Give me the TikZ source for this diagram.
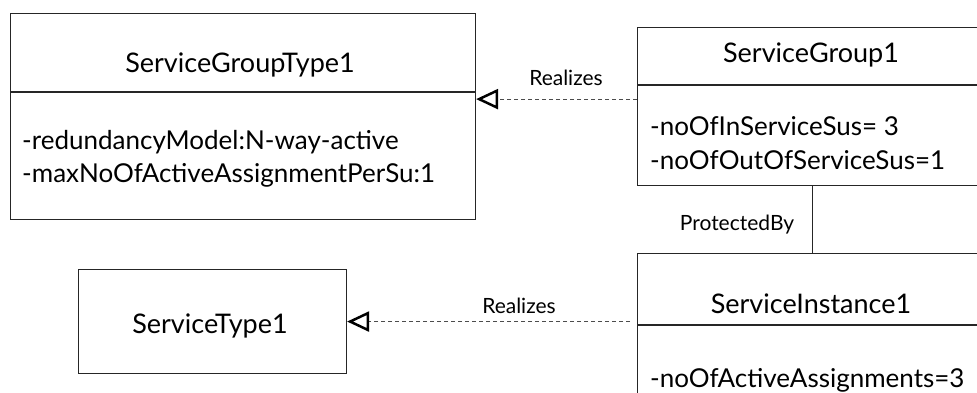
\documentclass[tikz,border=0pt]{standalone}
\usepackage{fontspec}
\setmainfont{Lato}
\usetikzlibrary{calc, arrows.meta, positioning}

\begin{document}
\begin{tikzpicture}[x=1pt, y=-1pt,
  box/.style={draw=black!85, line width=1.1pt, inner sep=0pt, anchor=north west},
  cname/.style={font=\fontsize{27}{32}\selectfont, anchor=base, inner sep=0pt},
  attr/.style={font=\fontsize{26}{32}\selectfont, anchor=base west, inner sep=0pt},
  rel/.style={font=\fontsize{21}{24}\selectfont, anchor=base, inner sep=0pt},
  realize/.style={draw=black!70, line width=1pt, dash pattern=on 4pt off 3pt,
    -{Triangle[open, length=22pt, width=20pt, line width=2.5pt, color=black]}}]
\useasboundingbox (0,0) rectangle (977,392);
\clip (0,0) rectangle (977,392);

% class boxes
\node[box, minimum width=465pt, minimum height=78pt] (sgtHead) at (10,13) {};
\node[box, minimum width=465pt, minimum height=127pt] (sgtBody) at (sgtHead.south west) {};
\node[box, minimum width=350pt, minimum height=57pt] (sgHead) at (637,27) {};
\node[box, minimum width=350pt, minimum height=100pt] (sgBody) at (sgHead.south west) {};
\node[box, minimum width=350pt, minimum height=71pt] (siHead) at (637,253) {};
\node[box, minimum width=350pt, minimum height=100pt] (siBody) at (siHead.south west) {};
\node[box, minimum width=268pt, minimum height=104pt] (st) at (78,269) {};

% names and attributes
\node[cname] (sgtName) at (240,72) {ServiceGroupType1};
\node[attr] (sgtA) at (22,149) {-redundancyModel:N-way-active};
\node[attr] (sgtB) at (22,182) {-maxNoOfActiveAssignmentPerSu:1};
\node[cname] (sgName) at (811,62) {ServiceGroup1};
\node[attr] (sgA) at (650,135) {-noOfInServiceSus= 3};
\node[attr] (sgB) at (650,169) {-noOfOutOfServiceSus=1};
\node[cname] (siName) at (811,313) {ServiceInstance1};
\node[attr] (siA) at (650,387) {-noOfActiveAssignments=3};
\node[cname] (stName) at (210,333) {ServiceType1};

% relations
\coordinate (r1) at ($(sgBody.north west)+(0,14)$);
\draw[realize] (r1) -- (r1 -| sgtBody.east);
\node[rel] (realA) at (566,85) {Realizes};
\draw[realize, shorten <=7pt] (st.east -| siHead.west) -- (st.east);
\node[rel] (realB) at (519,313) {Realizes};
\draw[draw=black!85, line width=1.1pt] (sgBody.south) -- (siHead.north);
\node[rel] (prot) at (737,230) {ProtectedBy};
\end{tikzpicture}
\end{document}
